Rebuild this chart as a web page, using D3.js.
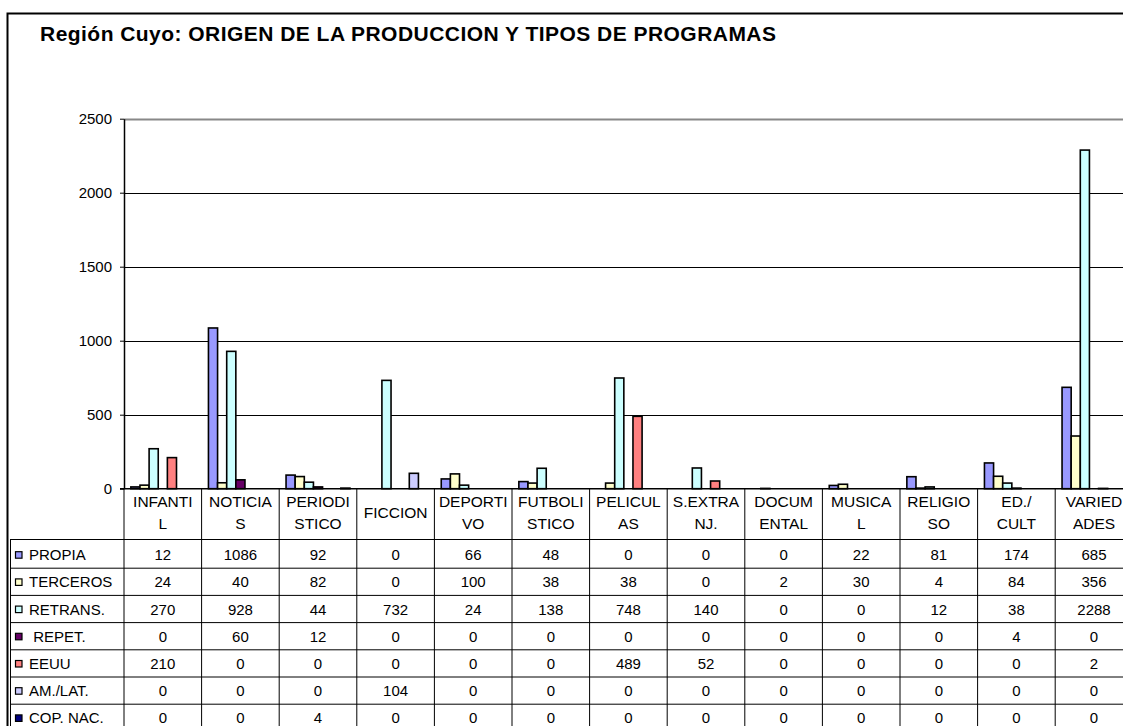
<!DOCTYPE html>
<html lang="es">
<head>
<meta charset="utf-8" />
<title>Región Cuyo</title>
<script src="https://d3js.org/d3.v7.min.js"></script>
<style>
  body { margin: 0; background: #fff; }
  svg { display: block; font-family: Arial, "Liberation Sans", sans-serif; }
  .lbl { white-space: pre; }
</style>
</head>
<body>
<svg id="chart" width="1123" height="726"></svg>
<script>
// categories (two-line header labels as shown in the table)
const categories = ["INFANTIL", "NOTICIAS", "PERIODISTICO", "FICCION", "DEPORTIVO", "FUTBOLISTICO",
  "PELICULAS", "S.EXTRANJ.", "DOCUMENTAL", "MUSICAL", "RELIGIOSO", "ED./CULT", "VARIEDADES"];
const catLines = [["INFANTI", "L"], ["NOTICIA", "S"], ["PERIODI", "STICO"], ["FICCION"], ["DEPORTI", "VO"],
  ["FUTBOLI", "STICO"], ["PELICUL", "AS"], ["S.EXTRA", "NJ."], ["DOCUM", "ENTAL"], ["MUSICA", "L"],
  ["RELIGIO", "SO"], ["ED./", "CULT"], ["VARIED", "ADES"]];

const seriesNames = ["PROPIA", "TERCEROS", "RETRANS.", " REPET.", "EEUU", "AM./LAT.", "COP. NAC."];
const seriesColors = ["#9999FF", "#FFFFCC", "#CCFFFF", "#660066", "#FF8080", "#CCCCFF", "#000080"];

const propia   = [12, 1086, 92, 0, 66, 48, 0, 0, 0, 22, 81, 174, 685];
const terceros = [24, 40, 82, 0, 100, 38, 38, 0, 2, 30, 4, 84, 356];
const retrans  = [270, 928, 44, 732, 24, 138, 748, 140, 0, 0, 12, 38, 2288];
const repet    = [0, 60, 12, 0, 0, 0, 0, 0, 0, 0, 0, 4, 0];
const eeuu     = [210, 0, 0, 0, 0, 0, 489, 52, 0, 0, 0, 0, 2];
const amlat    = [0, 0, 0, 104, 0, 0, 0, 0, 0, 0, 0, 0, 0];
const copnac   = [0, 0, 4, 0, 0, 0, 0, 0, 0, 0, 0, 0, 0];
const seriesValues = [propia, terceros, retrans, repet, eeuu, amlat, copnac];

const yTicks = [0, 500, 1000, 1500, 2000, 2500];

const svg = d3.select("#chart");

// outer chart frame
svg.append("rect")
  .attr("x", 7.5).attr("y", 13.5)
  .attr("width", 1300).attr("height", 900)
  .attr("fill", "none").attr("stroke", "#000").attr("stroke-width", 2);

svg.append("text")
  .attr("x", 40).attr("y", 41)
  .attr("font-size", 21).attr("font-weight", "bold")
  .attr("textLength", 736).attr("lengthAdjust", "spacing")
  .text("Región Cuyo: ORIGEN DE LA PRODUCCION Y TIPOS DE PROGRAMAS");

const left = 124, colW = 77.6;
const x = d3.scaleBand().domain(categories).range([left, left + colW * categories.length]);
const gap = 1.5 * colW / (seriesNames.length + 1.5);
const x1 = d3.scaleBand().domain(seriesNames).range([gap / 2, colW - gap / 2]);
const y = d3.scaleLinear().domain([0, 2500]).range([488.7, 118.7]);

// gridlines
svg.append("g")
  .selectAll("line")
  .data(yTicks.filter(t => t > 0))
  .join("line")
  .attr("x1", left).attr("x2", 1123)
  .attr("y1", d => Math.round(y(d)) + 0.5).attr("y2", d => Math.round(y(d)) + 0.5)
  .attr("stroke", d => d === 2500 ? "#888" : "#000")
  .attr("stroke-width", d => d === 2500 ? 2 : 1);

// y axis
const yAxis = svg.append("g")
  .attr("transform", `translate(${left},0)`)
  .call(d3.axisLeft(y).tickValues(yTicks).tickFormat(d3.format("d"))
    .tickSize(4).tickSizeOuter(0).tickPadding(8));
yAxis.select(".domain").attr("stroke", "#000").attr("stroke-width", 1.5);
yAxis.selectAll("text").attr("font-size", 15).attr("font-family", "Arial, 'Liberation Sans', sans-serif").attr("fill", "#000");

// bars
const bars = [];
seriesValues.forEach((vals, s) => vals.forEach((v, c) => bars.push({ s, c, v })));
svg.append("g")
  .selectAll("rect")
  .data(bars.filter(d => d.v > 0))
  .join("rect")
  .attr("x", d => x(categories[d.c]) + x1(seriesNames[d.s]))
  .attr("y", d => y(d.v))
  .attr("width", x1.bandwidth())
  .attr("height", d => y(0) - y(d.v))
  .attr("fill", d => seriesColors[d.s])
  .attr("stroke", "#000")
  .attr("stroke-width", 1.6);

// zero line
svg.append("line")
  .attr("x1", left - 4).attr("x2", 1123)
  .attr("y1", y(0)).attr("y2", y(0))
  .attr("stroke", "#000").attr("stroke-width", 1.5);

// data table
const tableLeft = 10, headBottom = 539.5, rowTop = 541, rowH = 27.2;
const tableRight = 1123;
const tbl = svg.append("g").attr("font-size", 15).attr("fill", "#000");

// header vertical separators
tbl.selectAll("line.hv")
  .data(categories.concat(["end"]))
  .join("line")
  .attr("class", "hv")
  .attr("x1", (d, i) => left + i * colW).attr("x2", (d, i) => left + i * colW)
  .attr("y1", y(0)).attr("y2", 726)
  .attr("stroke", "#000").attr("stroke-width", 1);

// header labels
tbl.selectAll("text.cat")
  .data(catLines)
  .join("text")
  .attr("class", "cat")
  .attr("font-size", 15.5)
  .attr("text-anchor", "middle")
  .attr("x", (d, i) => x(categories[i]) + colW / 2)
  .each(function (lines) {
    const t = d3.select(this);
    const y0 = lines.length === 1 ? 517.5 : 506.7;
    lines.forEach((ln, k) => t.append("tspan")
      .attr("x", t.attr("x")).attr("y", y0 + k * 22).text(ln));
  });

// horizontal row lines
const hLines = [headBottom].concat(seriesNames.map((d, i) => rowTop + rowH * (i + 1)));
tbl.selectAll("line.hl")
  .data(hLines)
  .join("line")
  .attr("class", "hl")
  .attr("x1", tableLeft).attr("x2", tableRight)
  .attr("y1", d => d).attr("y2", d => d)
  .attr("stroke", "#000").attr("stroke-width", 1);

tbl.append("line")
  .attr("x1", tableLeft + 0.5).attr("x2", tableLeft + 0.5)
  .attr("y1", headBottom).attr("y2", 726)
  .attr("stroke", "#000").attr("stroke-width", 1);

// row labels + keys + values
const rows = tbl.selectAll("g.row")
  .data(seriesNames)
  .join("g")
  .attr("class", "row")
  .attr("transform", (d, i) => `translate(0,${rowTop + rowH * (i + 1)})`);

rows.append("rect")
  .attr("x", 15.5).attr("y", -16.5)
  .attr("width", 6.5).attr("height", 6.5)
  .attr("fill", (d, i) => seriesColors[i])
  .attr("stroke", "#000").attr("stroke-width", 1.2);

rows.append("text")
  .attr("class", "lbl")
  .attr("x", 29).attr("y", -8)
  .text(d => d);

rows.each(function (name, s) {
  d3.select(this).selectAll("text.val")
    .data(seriesValues[s])
    .join("text")
    .attr("class", "val")
    .attr("text-anchor", "middle")
    .attr("x", (v, c) => x(categories[c]) + colW / 2)
    .attr("y", -8)
    .text(v => v);
});
</script>
</body>
</html>
